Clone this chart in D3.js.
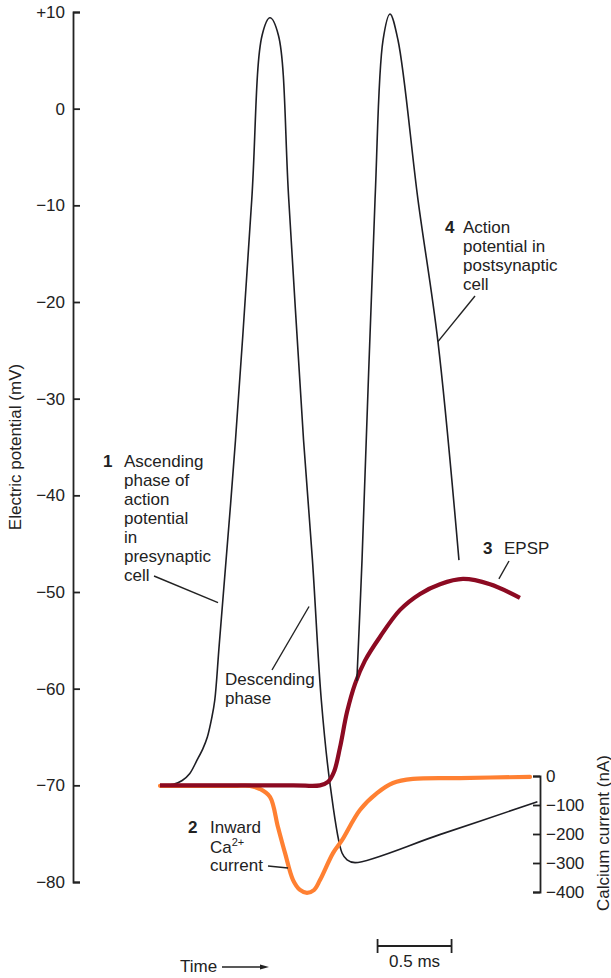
<!DOCTYPE html>
<html>
<head>
<meta charset="utf-8">
<script src="https://cdn.jsdelivr.net/npm/d3@7"></script>
<style>
  html, body { margin: 0; padding: 0; background: #fff; }
  svg { display: block; font-family: "Liberation Sans", Arial, Helvetica, sans-serif; }
  .axis text { font-size: 17px; fill: #222; }
  .axis path, .axis line { stroke: #222; stroke-width: 1.8; }
  .lbl { font-size: 17px; fill: #222; }
  .num { font-weight: bold; }
</style>
</head>
<body>
<svg id="chart"></svg>
<script>
//======
// Data
//======

// presynaptic action potential (time in ms, potential in mV)
const preT = [0.02, 0.09, 0.15, 0.2, 0.25, 0.29, 0.32, 0.35, 0.37, 0.40, 0.51, 0.62, 0.69, 0.743, 0.80, 0.87, 0.97, 1.03, 1.09, 1.15, 1.23, 1.264, 1.318, 1.89, 2.55];
const preV = [-70, -69.9, -69.5, -68.8, -67.4, -66.2, -65.0, -63.0, -61.2, -55.5, -34.3, -9.4, 7.6, 9.4, 7.6, -9.4, -34.3, -46.7, -61.2, -70, -77.0, -77.7, -78.0, -75.1, -71.7];

// postsynaptic action potential, rising out of the EPSP
const postT = [1.33, 1.365, 1.453, 1.507, 1.554, 1.608, 1.743, 1.878, 2.02];
const postV = [-59.2, -46.7, -9.4, 7.1, 9.8, 7.1, -9.4, -24.1, -46.7];

// EPSP (mV)
const epspT = [0, 0.9, 1.081, 1.135, 1.176, 1.216, 1.264, 1.318, 1.385, 1.486, 1.622, 1.757, 1.892, 2.047, 2.23, 2.432];
const epspV = [-70, -70, -70, -69.65, -68.6, -66.1, -62.4, -59.5, -57.1, -54.65, -51.85, -50.2, -49.2, -48.65, -49.2, -50.6];

// inward Ca2+ current (nA)
const caT = [0, 0.5, 0.608, 0.676, 0.743, 0.797, 0.845, 0.899, 0.946, 0.993, 1.041, 1.081, 1.169, 1.23, 1.351, 1.466, 1.574, 1.709, 2.027, 2.5];
const caI = [-34, -34, -34, -45, -72, -176, -266, -359, -393, -403, -393, -359, -266, -221, -117, -59, -24, -10, -7, -3];

// axes ticks
const mvTicks = [10, 0, -10, -20, -30, -40, -50, -60, -70, -80];
const naTicks = [0, -100, -200, -300, -400];

// scale bar
const barStart = 1.47, barLen = 0.5;

//=======
// Chart
//=======

var width = 611, height = 978;

var svg = d3.select("#chart")
  .attr("width", width)
  .attr("height", height);

var x = d3.scaleLinear().domain([0, 1]).range([160, 308]);
var y = d3.scaleLinear().domain([10, -80]).range([12, 882]);
var yCa = d3.scaleLinear().domain([0, -400]).range([776, 892]);

// left axis
svg.append("g")
  .attr("class", "axis")
  .attr("transform", "translate(73,0)")
  .call(d3.axisLeft(y).tickValues(mvTicks).tickSize(-7).tickPadding(8)
    .tickFormat(d => d > 0 ? "+" + d : d3.format("")(d)));

svg.append("text")
  .attr("class", "lbl")
  .attr("transform", "translate(15,447) rotate(-90)")
  .attr("text-anchor", "middle")
  .attr("dominant-baseline", "central")
  .text("Electric potential (mV)");

// right axis
svg.append("g")
  .attr("class", "axis")
  .attr("transform", "translate(540,0)")
  .call(d3.axisRight(yCa).tickValues(naTicks).tickSize(-7).tickPadding(6)
    .tickFormat(d3.format("")));

svg.append("text")
  .attr("class", "lbl")
  .attr("transform", "translate(603,833) rotate(-90)")
  .attr("text-anchor", "middle")
  .attr("dominant-baseline", "central")
  .text("Calcium current (nA)");

// curves
var smooth = d3.curveCatmullRom.alpha(0.5);

var lineMv = d3.line()
  .x(d => x(d[0]))
  .y(d => y(d[1]))
  .curve(smooth);

var lineCa = d3.line()
  .x(d => x(d[0]))
  .y(d => yCa(d[1]))
  .curve(smooth);

svg.append("path")
  .datum(d3.zip(preT, preV))
  .attr("d", lineMv)
  .attr("fill", "none")
  .attr("stroke", "#1e1e24")
  .attr("stroke-width", 1.6);

svg.append("path")
  .datum(d3.zip(caT, caI))
  .attr("d", lineCa)
  .attr("fill", "none")
  .attr("stroke", "#ff8032")
  .attr("stroke-width", 4.2)
  .attr("stroke-linecap", "round");

svg.append("path")
  .datum(d3.zip(epspT, epspV))
  .attr("d", lineMv)
  .attr("fill", "none")
  .attr("stroke", "#8c0a22")
  .attr("stroke-width", 4.2);

svg.append("path")
  .datum(d3.zip(postT, postV))
  .attr("d", lineMv)
  .attr("fill", "none")
  .attr("stroke", "#1e1e24")
  .attr("stroke-width", 1.6);

//=============
// Annotations
//=============

function label(num, nx, tx, baselines, lines) {
  if (num) {
    svg.append("text").attr("class", "lbl num")
      .attr("x", nx).attr("y", baselines[0]).text(num);
  }
  lines.forEach((s, i) => {
    if (!s) return;
    svg.append("text").attr("class", "lbl")
      .attr("x", tx).attr("y", baselines[i]).text(s);
  });
}

function leader(x1, y1, x2, y2) {
  svg.append("line")
    .attr("x1", x1).attr("y1", y1)
    .attr("x2", x2).attr("y2", y2)
    .attr("stroke", "#222")
    .attr("stroke-width", 1.4);
}

label("1", 103, 124, d3.range(7).map(i => 467 + i * 19),
  ["Ascending", "phase of", "action", "potential", "in", "presynaptic", "cell"]);
leader(154, 576, x(0.392), y(-51.1));

label(null, 0, 225, [685, 704], ["Descending", "phase"]);
leader(272, 670, x(1.007), y(-51.5));

label("4", 445, 463, [233, 252, 271, 290],
  ["Action", "potential in", "postsynaptic", "cell"]);
leader(475, 296, x(1.878), y(-24.1));

label("3", 483, 504, [554], ["EPSP"]);
leader(509, 561, x(2.29), y(-48.65));

label("2", 188, 210, [833, 852, 871], ["Inward", "", "current"]);
svg.append("text").attr("class", "lbl")
  .attr("x", 210).attr("y", 853)
  .call(t => {
    t.append("tspan").text("Ca");
    t.append("tspan").attr("font-size", 11).attr("dy", -7).text("2+");
  });
leader(268, 866, x(0.865), yCa(-317));

// time arrow
svg.append("text").attr("class", "lbl").attr("x", 180).attr("y", 972).text("Time");
svg.append("line")
  .attr("x1", 222).attr("x2", 262).attr("y1", 967).attr("y2", 967)
  .attr("stroke", "#222").attr("stroke-width", 1.3);
svg.append("path")
  .attr("d", "M260,964.5L269,967L260,969.5Z")
  .attr("fill", "#222");

// scale bar
var sb = svg.append("g").attr("stroke", "#222").attr("stroke-width", 1.8);
sb.append("line")
  .attr("x1", x(barStart)).attr("x2", x(barStart + barLen))
  .attr("y1", 946).attr("y2", 946);
[barStart, barStart + barLen].forEach(t => {
  sb.append("line")
    .attr("x1", x(t)).attr("x2", x(t))
    .attr("y1", 939).attr("y2", 953);
});
svg.append("text").attr("class", "lbl")
  .attr("x", x(barStart + barLen / 2)).attr("y", 967)
  .attr("text-anchor", "middle")
  .text("0.5 ms");
</script>
</body>
</html>
